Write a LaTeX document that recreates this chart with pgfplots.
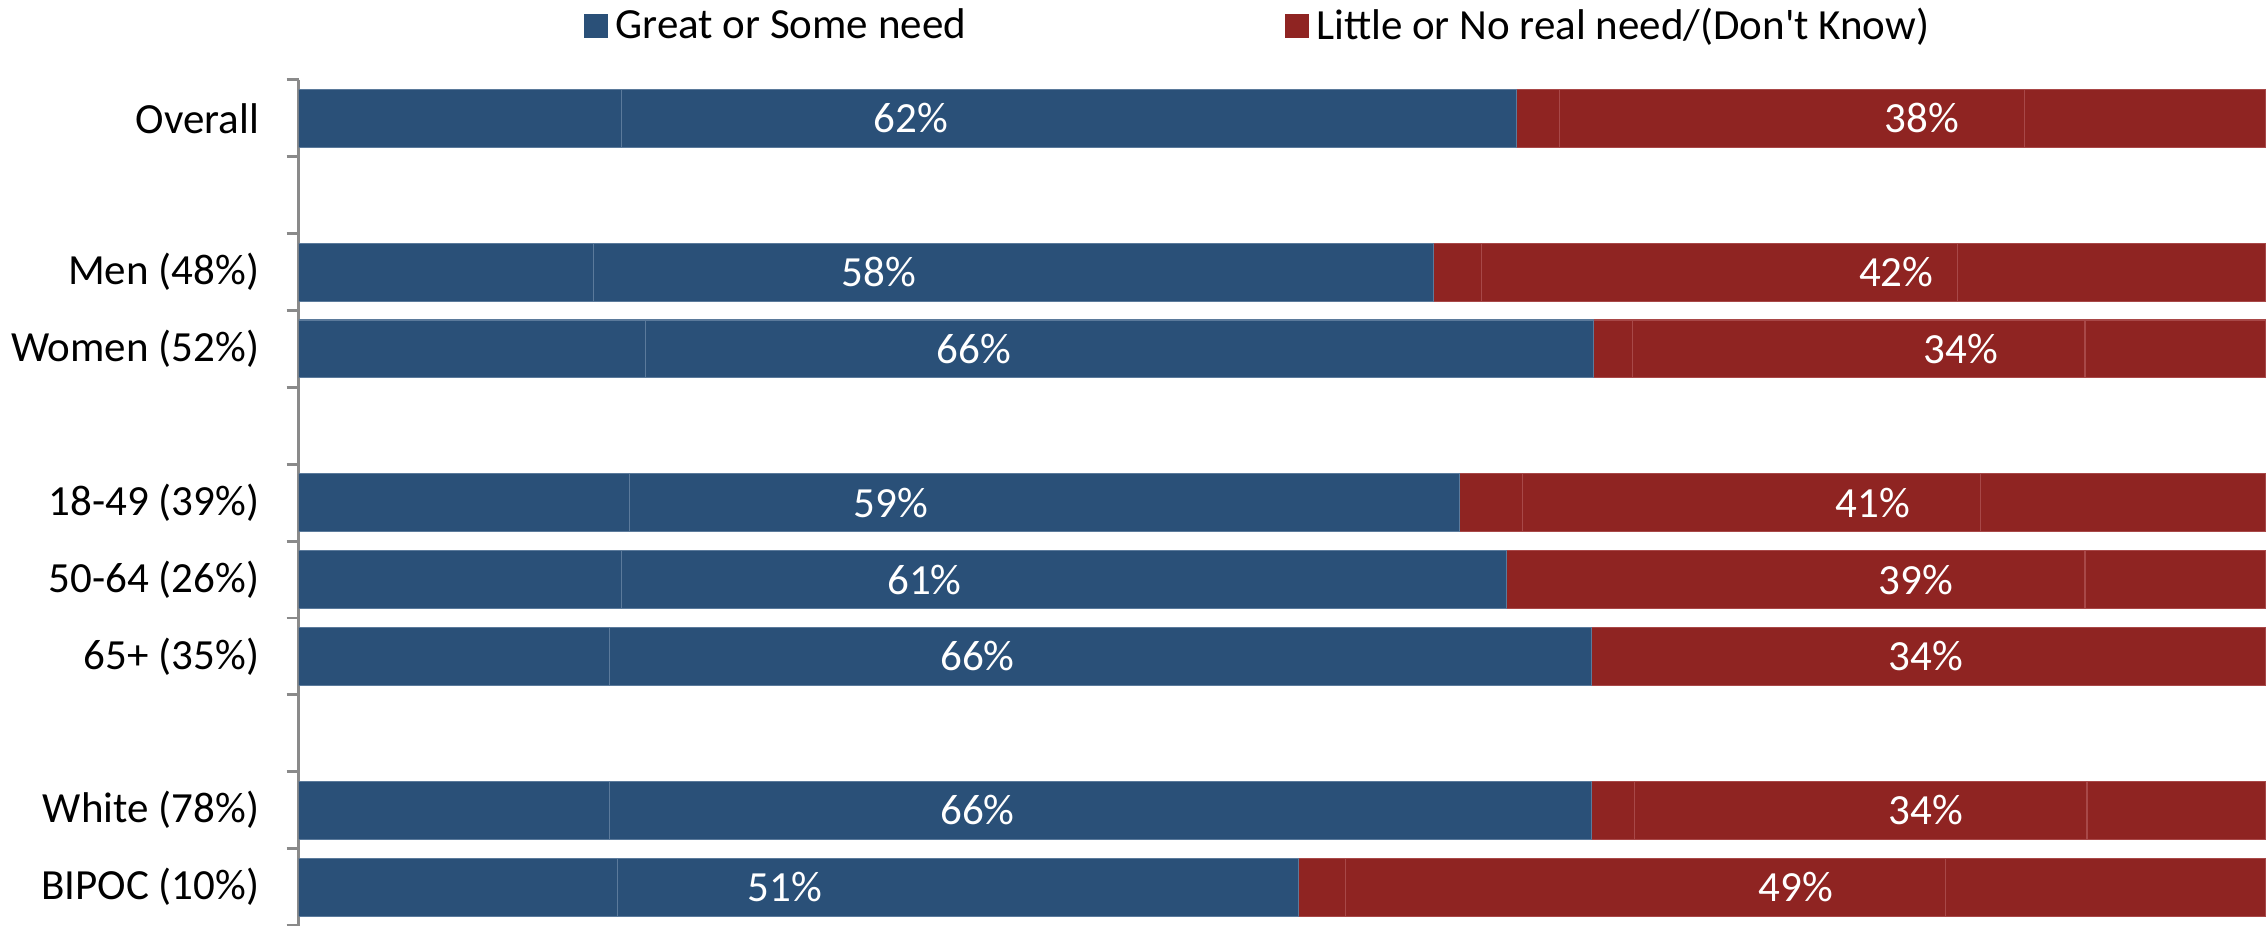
\documentclass[border=0pt]{standalone}
\usepackage{pgfplots}
\usepackage{pgfplotstable}
\pgfplotsset{compat=1.18}
\usepackage{fontspec}
\setmainfont{Carlito}
\definecolor{cblue}{HTML}{2A5078}
\definecolor{cred}{HTML}{8F2422}
\definecolor{cbluel}{HTML}{5B7A9B}
\definecolor{credl}{HTML}{A84848}
\definecolor{axgray}{HTML}{8A8A8A}

\pgfplotstableread{
y great some dk little noreal
0 16.4 45.5 2.2 23.6 12.3
2 15.0 42.7 2.4 24.2 15.7
3 17.6 48.2 2.0 23.0 9.2
5 16.8 42.2 3.2 23.3 14.5
6 16.4 45.0 0 29.4 9.2
7 15.8 49.9 0 34.3 0
9 15.8 49.9 2.2 23.0 9.1
10 16.2 34.6 2.4 30.5 16.3
}\datatab

\pgfplotstableread{
x y lab
31.1 0 62
82.5 0 38
29.5 2 58
81.2 2 42
34.3 3 66
84.5 3 34
30.1 5 59
80.0 5 41
31.8 6 61
82.2 6 39
34.5 7 66
82.7 7 34
34.5 9 66
82.7 9 34
24.7 10 51
76.1 10 49
}\labtab

\begin{document}
\begin{tikzpicture}
\begin{axis}[name=ax, scale only axis, width=549pt, height=236pt,
  xbar stacked, bar width=0.754,
  xmin=0, xmax=100, ymin=-0.5, ymax=10.5, y dir=reverse,
  axis x line=none, axis y line*=left,
  y axis line style={draw=axgray, line width=0.8pt},
  ytick={0,2,3,5,6,7,9,10},
  yticklabels={Overall, Men (48\%), Women (52\%), 18-49 (39\%), 50-64 (26\%), 65+ (35\%), White (78\%), BIPOC (10\%)},
  major tick length=0pt,
  minor ytick={-0.5,0.5,1.5,2.5,3.5,4.5,5.5,6.5,7.5,8.5,9.5,10.5},
  minor tick length=3.4pt, tick align=outside, tick pos=left,
  minor tick style={draw=axgray, line width=0.8pt},
  yticklabel style={font=\fontsize{12}{14}\selectfont, inner sep=0pt, anchor=east, xshift=-10.9pt},
  legend columns=2,
  legend style={draw=none, fill=none, at={(0.487,1)}, anchor=center, xshift=1pt, yshift=15pt,
    font=\fontsize{12}{14}\selectfont,
    /tikz/every even column/.append style={column sep=87pt}},
  legend image code/.code={\fill[#1] (0pt,-3.35pt) rectangle (6.7pt,3.35pt);},
]
\addplot[fill=cblue, draw=cbluel, line width=0.3pt, forget plot] table[x=great, y=y] {\datatab};
\addplot[fill=cblue, draw=cbluel, line width=0.3pt, forget plot] table[x=some, y=y] {\datatab};
\addplot[fill=cred, draw=credl, line width=0.3pt, forget plot] table[x=dk, y=y] {\datatab};
\addplot[fill=cred, draw=credl, line width=0.3pt, forget plot] table[x=little, y=y] {\datatab};
\addplot[fill=cred, draw=credl, line width=0.3pt, forget plot] table[x=noreal, y=y] {\datatab};
\addlegendimage{fill=cblue, draw=none}
\addlegendentry{Great or Some need}
\addlegendimage{fill=cred, draw=none}
\addlegendentry{Little or No real need/(Don\textquotesingle t Know)}
\end{axis}
\begin{axis}[scale only axis, width=549pt, height=236pt, at={(ax.south west)}, anchor=south west,
  xmin=0, xmax=100, ymin=-0.5, ymax=10.5, y dir=reverse, hide axis]
\addplot[draw=none, mark=none, point meta=explicit symbolic,
  nodes near coords={\pgfplotspointmeta\%},
  nodes near coords style={font=\fontsize{12}{14}\selectfont, text=white, anchor=center}]
  table[x=x, y=y, meta=lab] {\labtab};
\end{axis}
\pgfresetboundingbox
\path (ax.south west) ++(-83.4pt,0pt) coordinate (bl);
\path ([yshift=22.3pt]ax.north east) coordinate (tr);
\path (bl) rectangle (tr);
\end{tikzpicture}
\end{document}
